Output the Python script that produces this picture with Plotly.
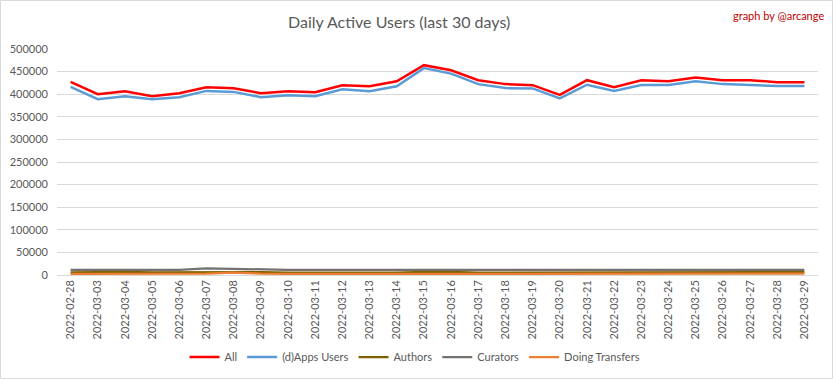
import plotly.graph_objects as go

dates = ["2022-02-28"] + [f"2022-03-{d:02d}" for d in range(3, 30)]

all_users = [427200, 400000, 406600, 395600, 402200, 415400, 413200, 402200, 406600, 404400,
             419800, 417600, 428700, 464200, 453000, 431000, 422300, 420000, 398500, 431000,
             415300, 431000, 428800, 436900, 431000, 431000, 426700, 426700]
dapps_users = [416200, 389000, 395600, 389000, 393400, 407300, 405100, 393400, 397800, 395600,
               411000, 406600, 417600, 457700, 445500, 422300, 413500, 412800, 390500, 420900,
               407300, 420100, 420100, 428800, 422300, 420100, 418000, 418000]
authors = [6000, 7000, 7000, 6000, 6000, 7500, 6500, 6500, 5000, 5000,
           5000, 5000, 5000, 7000, 7000, 5000, 5000, 5000, 5000, 6500,
           6500, 6500, 6500, 5000, 5000, 5000, 6500, 6500]
curators = [11500, 11500, 11500, 11500, 11500, 14500, 13000, 11500, 11500, 11500,
            11500, 11500, 11500, 11500, 11500, 11500, 11500, 11500, 11500, 11500,
            11500, 11500, 11500, 11500, 11500, 11500, 11500, 11500]
transfers = [2500, 2500, 2500, 2500, 2500, 3000, 5500, 3000, 2500, 2500,
             2500, 2500, 2500, 2500, 2500, 2500, 2500, 2500, 2500, 2500,
             2500, 2500, 2500, 2500, 2500, 2500, 4000, 3000]

series = [
    ("All", all_users, "#ff0000", 2.5),
    ("(d)Apps Users", dapps_users, "#5b9bd5", 2.5),
    ("Authors", authors, "#7f6000", 2.25),
    ("Curators", curators, "#767171", 2.25),
    ("Doing Transfers", transfers, "#ed7d31", 2.25),
]

fig = go.Figure()
for name, vals, color, w in series:
    fig.add_trace(go.Scatter(x=dates, y=vals, name=name, mode="lines",
                             line=dict(color=color, width=w)))

L, R, T, B = 57, 818, 49, 275
W, H = 833, 379
pw, ph = R - L, B - T

def px(x):
    return (x - L) / pw

def py(y):
    return (B - y) / ph

fig.update_layout(
    width=W, height=H,
    margin=dict(l=L, r=W - R, t=T, b=H - B, autoexpand=False),
    paper_bgcolor="white", plot_bgcolor="white",
    font=dict(family="Lato, Open Sans, sans-serif", color="#595959", size=11),
    showlegend=True,
    legend=dict(orientation="h", x=px(415), xanchor="center", y=py(357), yanchor="middle",
                font=dict(size=11, color="#595959"), itemwidth=30, tracegroupgap=0),
    xaxis=dict(type="category", range=[-0.5, len(dates) - 0.5], tickangle=-90,
               showgrid=False, showline=False, ticks="", zeroline=False, automargin=False,
               ticklabelstandoff=2,
               tickfont=dict(size=11, color="#595959")),
    yaxis=dict(range=[0, 500000], dtick=50000, tickformat="d", showgrid=True,
               gridcolor="#d9d9d9", gridwidth=1, zeroline=True, zerolinecolor="#d9d9d9",
               zerolinewidth=1, showline=False, ticks="", automargin=False,
               ticklabelstandoff=8,
               tickfont=dict(size=11, color="#595959")),
    annotations=[
        dict(text="Daily Active Users (last 30 days)", xref="paper", yref="paper",
             x=px(399), y=py(22), xanchor="center", yanchor="middle", showarrow=False,
             font=dict(size=16, color="#595959")),
        dict(text="graph by @arcange", xref="paper", yref="paper",
             x=px(826), y=py(15), xanchor="right", yanchor="middle", showarrow=False,
             font=dict(size=11, color="#c00000")),
    ],
    shapes=[dict(type="rect", xref="paper", yref="paper",
                 x0=px(0.5), x1=px(832.5), y0=py(378.5), y1=py(0.5),
                 line=dict(color="#d9d9d9", width=1), layer="below")],
)

fig.write_html("out.html", config={"displayModeBar": False},
               post_script="document.body.style.margin='0';document.body.style.overflow='hidden';")
